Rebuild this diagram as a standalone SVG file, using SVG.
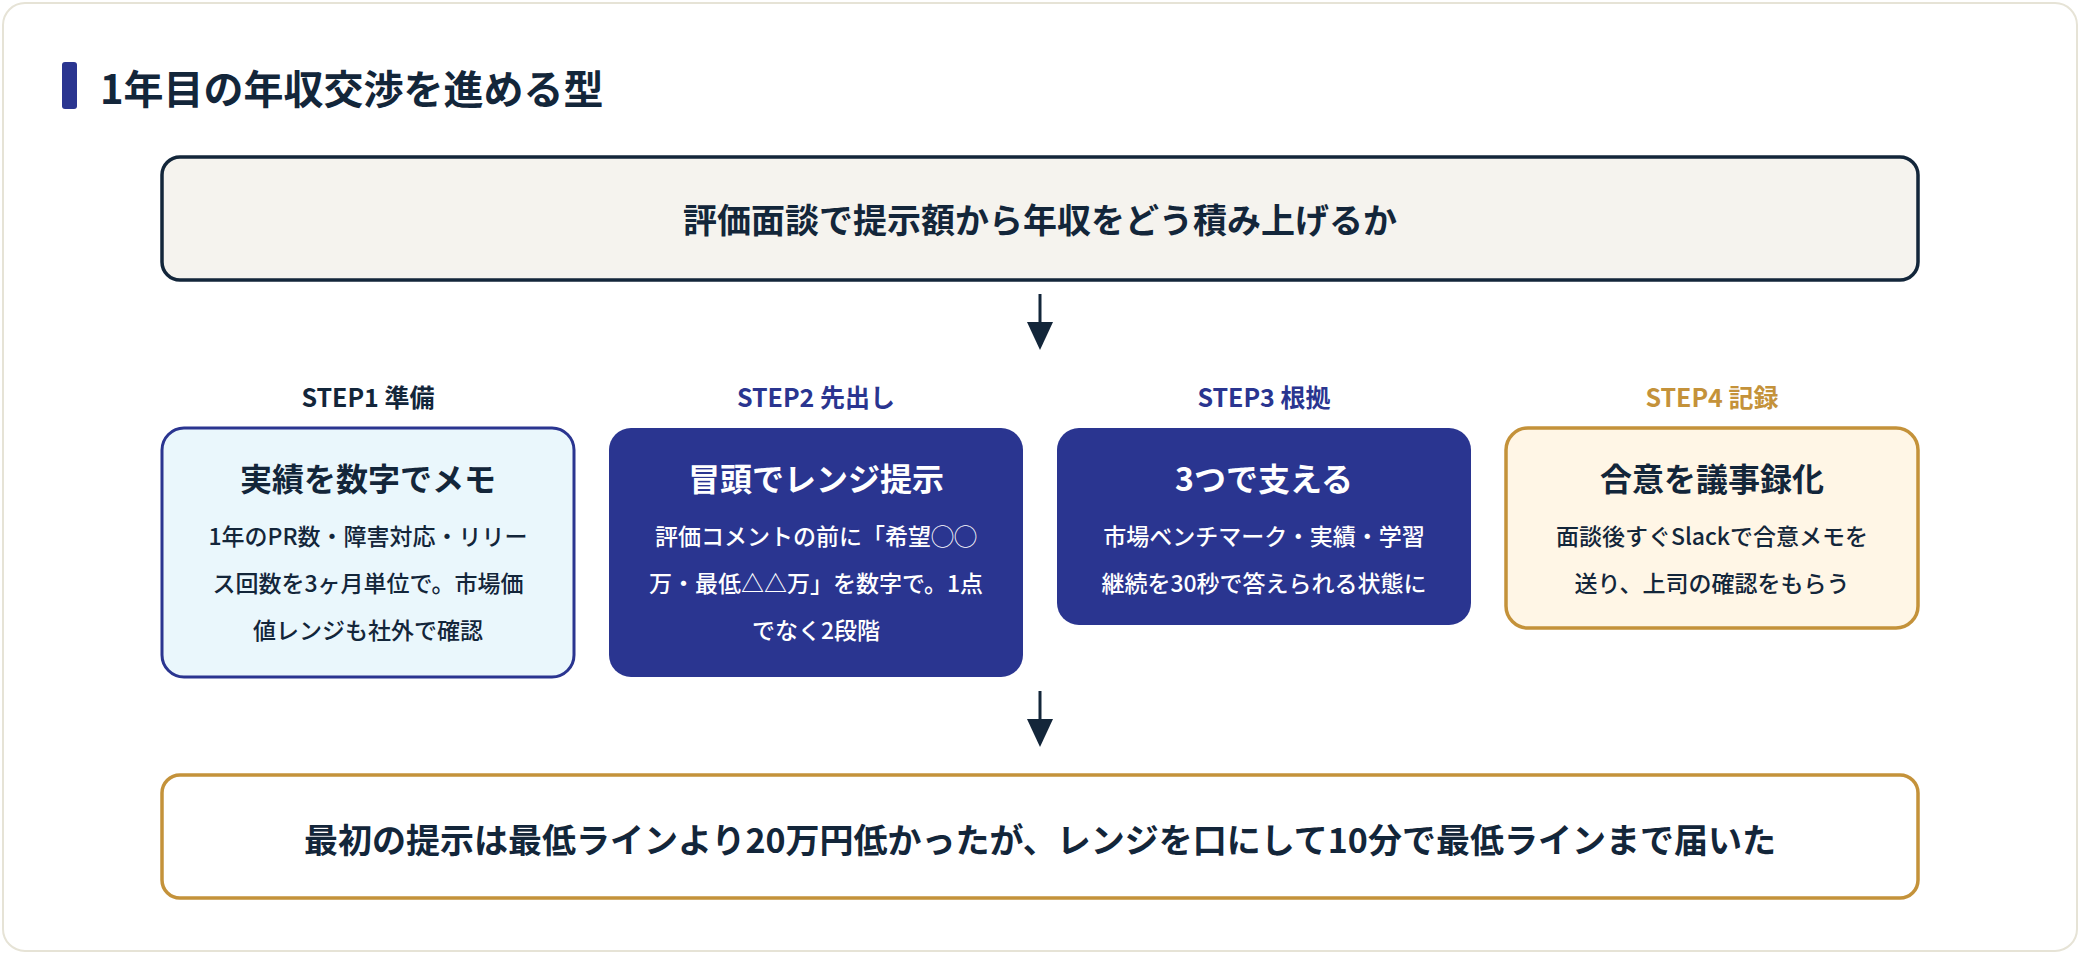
<svg xmlns="http://www.w3.org/2000/svg" width="2080" height="954" viewBox="0 0 2080 954">
<defs>
<style>
text{font-family:"Noto Sans CJK JP","Noto Sans",sans-serif;font-weight:700;text-anchor:middle}
.step{font-size:25px}
.ttl{font-size:32px}
.body{font-size:23px;font-weight:500}
.big{font-size:34px;fill:#13263a}
</style>
<marker id="ah" markerWidth="10" markerHeight="10" refX="5" refY="9" orient="auto" markerUnits="userSpaceOnUse" viewBox="0 0 10 10"><path d="M0,0 L10,0 L5,10 Z" fill="#13263a"/></marker>
</defs>
<rect x="3" y="3" width="2074" height="948" rx="22" fill="#fff" stroke="#e6e3d6" stroke-width="2"/>
<rect x="62" y="62" width="15" height="47" rx="3" fill="#2a3590"/>
<text x="100" y="104" style="font-size:40px;text-anchor:start;fill:#13263a">1年目の年収交渉を進める型</text>
<g id="top"><rect x="162" y="157" width="1756" height="123" rx="18" fill="#f5f3ee" stroke="#13263a" stroke-width="3.5"/>
<text class="big" x="1040" y="233">評価面談で提示額から年収をどう積み上げるか</text></g>
<g id="connectors" stroke="#13263a" stroke-width="3">
<line x1="1040" y1="294" x2="1040" y2="326"/><path d="M1027,322 L1053,322 L1040,350 Z" fill="#13263a" stroke="none"/>
<line x1="1040" y1="691" x2="1040" y2="723"/><path d="M1027,719 L1053,719 L1040,747 Z" fill="#13263a" stroke="none"/>
</g>
<g id="step1"><text class="step" x="368" y="407" fill="#13263a">STEP1 準備</text>
<rect x="162" y="428" width="412" height="249" rx="22" fill="#eaf7fc" stroke="#2a3590" stroke-width="3"/>
<text class="ttl" x="368" y="491" fill="#13263a">実績を数字でメモ</text>
<text class="body" x="368" y="545" fill="#13263a">1年のPR数・障害対応・リリー</text>
<text class="body" x="368" y="592" fill="#13263a">ス回数を3ヶ月単位で。市場価</text>
<text class="body" x="368" y="639" fill="#13263a">値レンジも社外で確認</text></g>
<g id="step2"><text class="step" x="816" y="407" fill="#2a3590">STEP2 先出し</text>
<rect x="609" y="428" width="414" height="249" rx="22" fill="#2a3590"/>
<text class="ttl" x="816" y="491" fill="#fff">冒頭でレンジ提示</text>
<text class="body" x="816" y="545" fill="#fff">評価コメントの前に「希望◯◯</text>
<text class="body" x="816" y="592" fill="#fff">万・最低△△万」を数字で。1点</text>
<text class="body" x="816" y="639" fill="#fff">でなく2段階</text></g>
<g id="step3"><text class="step" x="1264" y="407" fill="#2a3590">STEP3 根拠</text>
<rect x="1057" y="428" width="414" height="197" rx="22" fill="#2a3590"/>
<text class="ttl" x="1264" y="491" fill="#fff">3つで支える</text>
<text class="body" x="1264" y="545" fill="#fff">市場ベンチマーク・実績・学習</text>
<text class="body" x="1264" y="592" fill="#fff">継続を30秒で答えられる状態に</text></g>
<g id="step4"><text class="step" x="1712" y="407" fill="#c4923a">STEP4 記録</text>
<rect x="1506" y="428" width="412" height="200" rx="22" fill="#fff6e6" stroke="#c4923a" stroke-width="3.5"/>
<text class="ttl" x="1712" y="491" fill="#13263a">合意を議事録化</text>
<text class="body" x="1712" y="545" fill="#13263a">面談後すぐSlackで合意メモを</text>
<text class="body" x="1712" y="592" fill="#13263a">送り、上司の確認をもらう</text></g>
<g id="result"><rect x="162" y="775" width="1756" height="123" rx="18" fill="#fff" stroke="#c4923a" stroke-width="3.5"/>
<text class="big" x="1040" y="853">最初の提示は最低ラインより20万円低かったが、レンジを口にして10分で最低ラインまで届いた</text></g>
</svg>
